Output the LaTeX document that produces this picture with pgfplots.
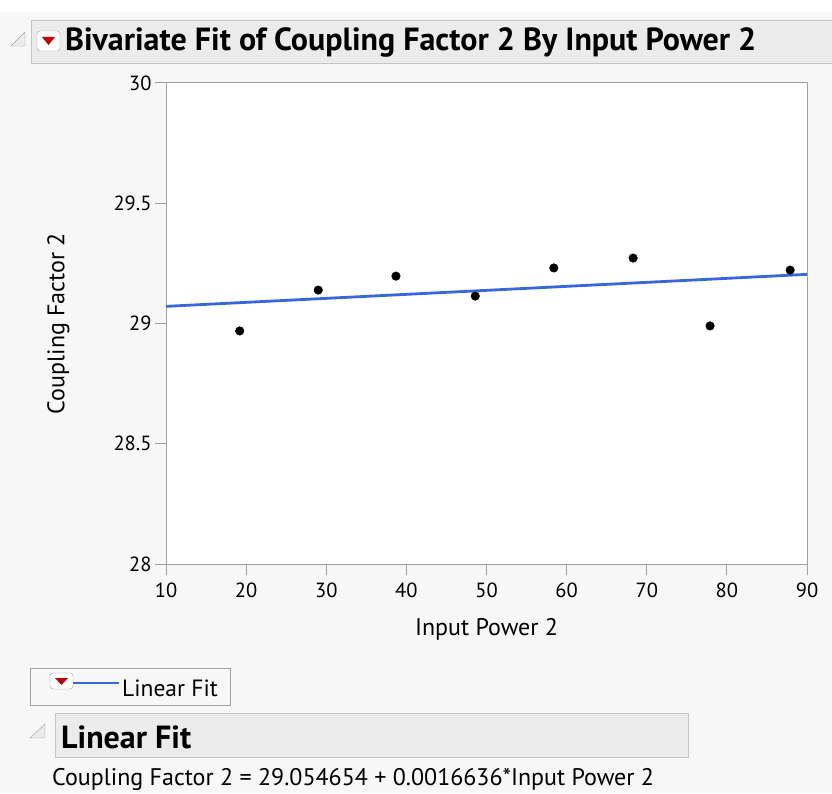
\documentclass[border=0pt]{standalone}
\usepackage{pgfplots}
\pgfplotsset{compat=1.18}
\usepackage{fontspec}
\setmainfont{PT Sans}
\definecolor{bg}{HTML}{F7F7F7}
\definecolor{bar}{HTML}{EBEBEB}
\definecolor{barline}{HTML}{C4C4C4}
\definecolor{axgray}{HTML}{A0A0A0}
\definecolor{fitblue}{HTML}{3A66DC}
\definecolor{ddred}{HTML}{C00000}
\begin{document}
\begin{tikzpicture}[x=1pt,y=1pt]
\fill[bg] (0,0) rectangle (832,793);
\fill[white] (0,781) rectangle (832,793);
\useasboundingbox (0,0) rectangle (832,793);
% title bar
\draw[barline,fill=bar] (31,730) rectangle (840,773);
\draw[axgray,fill=bar] (11,747) -- (25,747) -- (25,761) -- cycle;
\draw[axgray,fill=white,rounded corners=3pt] (37,742) rectangle (60,762);
\fill[ddred] (42,756) -- (55,756) -- (48.5,748) -- cycle;
\node[anchor=west,inner sep=0pt,font=\bfseries\fontsize{32}{36}\selectfont] at (65,751) {Bivariate Fit of Coupling Factor 2 By Input Power 2};
% main axis
\begin{axis}[
  at={(166pt,229pt)}, anchor=south west,
  width=641pt, height=481pt, scale only axis,
  xmin=10, xmax=90, ymin=28, ymax=30,
  xtick={10,20,...,90},
  ytick={28,28.5,29,29.5,30},
  axis background/.style={fill=white},
  axis line style={axgray, line width=1pt},
  tick style={axgray, line width=1pt},
  tick align=outside, major tick length=11pt,
  xtick pos=bottom, ytick pos=left,
  /pgf/number format/assume math mode=true,
  ticklabel style={font=\fontsize{20.5}{23}\selectfont},
  xticklabel style={yshift=-4pt},
  label style={font=\fontsize{24}{27}\selectfont},
  xlabel={Input Power 2},
  ylabel={Coupling Factor 2},
  xlabel style={at={(axis description cs:0.5,0)}, anchor=center, yshift=-65pt},
  ylabel style={at={(axis description cs:-0.168,0.5)}, anchor=center},
  clip=false,
]
\addplot[only marks, mark=*, mark size=4.3pt, black] coordinates {
 (19.2,28.969) (29.0,29.139) (38.7,29.197) (48.6,29.114)
 (58.4,29.231) (68.3,29.272) (77.9,28.990) (87.9,29.222)
};
\addplot[fitblue, line width=2.8pt] coordinates {(10,29.071290) (90,29.204378)};
\end{axis}
% legend
\draw[axgray,fill=bg] (30,88) rectangle (230,125);
\draw[axgray,fill=white,rounded corners=3pt] (50,104) rectangle (73,120);
\fill[ddred] (55,115) -- (68,115) -- (61.5,108) -- cycle;
\draw[fitblue,line width=2.5pt] (73,110) -- (119,110);
\node[anchor=west,inner sep=0pt,font=\fontsize{23.5}{26}\selectfont] at (122,105) {Linear Fit};
% linear fit section
\draw[axgray,fill=bar] (30,55) -- (45,55) -- (45,69) -- cycle;
\draw[barline,fill=bar] (55,36) rectangle (688,80);
\node[anchor=west,inner sep=0pt,font=\bfseries\fontsize{32}{36}\selectfont] at (61,56) {Linear Fit};
\node[anchor=west,inner sep=0pt,font=\fontsize{24}{27}\selectfont] at (52,14) {Coupling Factor 2 = 29.054654 + 0.0016636*Input Power 2};
\end{tikzpicture}
\end{document}
